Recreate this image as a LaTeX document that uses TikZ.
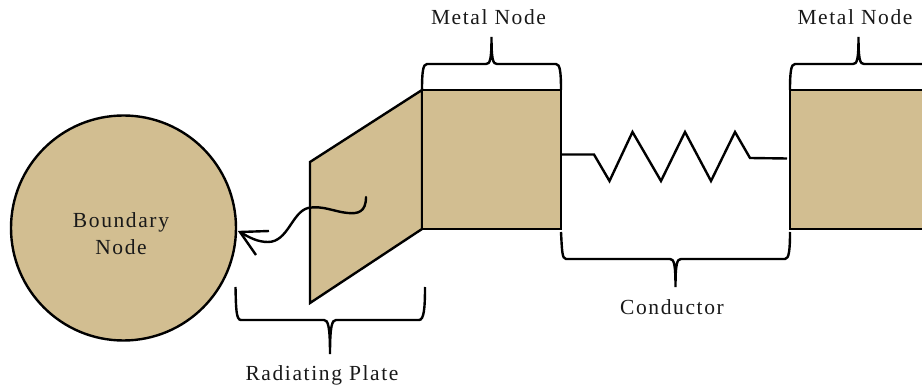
\documentclass[tikz,border=0pt]{standalone}
\usepackage{fontspec}
\setmainfont[LetterSpace=7.5]{Liberation Serif}
\definecolor{tan1}{RGB}{210,190,145}
\tikzset{
  solidbody/.style={draw=black,fill=tan1,line width=2.4pt,inner sep=0pt,outer sep=0pt},
  wire/.style={draw=black,line width=2.4pt,line join=miter,fill=none},
  lab/.style={inner sep=0pt,align=center,text=black!90,font=\fontsize{21.5}{27}\selectfont}
}
\begin{document}
\begin{tikzpicture}[x=1pt,y=-1pt]
\useasboundingbox (0,0) rectangle (922,390);
\clip (0,0) rectangle (922,390);
% bodies
\node[solidbody,circle,minimum size=225pt] (bnd) at (123.5,228) {};
\path[solidbody] (310,162) -- (422,90) -- (422,229) -- (310,303) -- cycle;
\node[solidbody,rectangle,minimum width=139pt,minimum height=139pt] (m1) at (491.5,159.5) {};
\node[solidbody,rectangle,minimum width=139pt,minimum height=139pt] (m2) at (859.5,159.5) {};
% labels
\node[lab] (tb) at (121,233.5) {Boundary\\Node};
\node[lab] (tm1) at (488.5,17.5) {Metal Node};
\node[lab] (tm2) at (855,17.5) {Metal Node};
\node[lab] (tc) at (672,307) {Conductor};
\node[lab] (tr) at (322,375) {Radiating Plate};
% resistor
\coordinate (ra) at (562,154.5);
\coordinate (rb) at (787,158.5);
\draw[wire] (ra) -- (594,154.5) -- (609.5,181) -- (632.5,132) -- (661,181) -- (685,132) -- (711,181) -- (735,132) -- (750,158) -- (rb);
% radiated heat wave
\coordinate (ws) at (366,197);
\coordinate (tip) at (240,232);
\draw[wire,line cap=round] (ws) .. controls (366,212) and (358,214) .. (348,213)
  .. controls (335,212) and (322,205) .. (308,208)
  .. controls (292,212) and (288,242) .. (268,242)
  .. controls (258,242) and (250,238) .. (tip);
\draw[wire] (269,231) -- (tip) -- (256,255);
% braces
\coordinate (b1l) at (422,90); \coordinate (b1r) at (561,90);
\coordinate (b1t) at (491.5,37);
\draw[wire] (b1l) .. controls (422,72) and (423,64) .. (427,64) -- (486,64)
  .. controls (490,64) and (491.5,60) .. (b1t)
  .. controls (491.5,60) and (493,64) .. (497,64) -- (556,64)
  .. controls (560,64) and (561,72) .. (b1r);
\coordinate (b2l) at (790,90); \coordinate (b2r) at (930,64);
\coordinate (b2t) at (858.5,37);
\draw[wire] (b2l) .. controls (790,72) and (791,64) .. (795,64) -- (853,64)
  .. controls (857,64) and (858.5,60) .. (b2t)
  .. controls (858.5,60) and (860,64) .. (864,64) -- (b2r);
\coordinate (cl) at (561,232); \coordinate (cr) at (790,232);
\coordinate (ct) at (675.5,287);
\draw[wire] (cl) .. controls (562,250) and (562,259) .. (566,259) -- (670,259)
  .. controls (674,259) and (675.5,264) .. (ct)
  .. controls (675.5,264) and (677,259) .. (681,259) -- (785,259)
  .. controls (789,259) and (790,250) .. (cr);
\coordinate (pl) at (235.5,287); \coordinate (pr) at (425,287);
\coordinate (pt) at (330,354);
\draw[wire] (pl) .. controls (236,308) and (236,320) .. (241,320) -- (324,320)
  .. controls (328,320) and (330,326) .. (pt)
  .. controls (330,326) and (332,320) .. (336,320) -- (419,320)
  .. controls (424,320) and (425,308) .. (pr);
\end{tikzpicture}
\end{document}
